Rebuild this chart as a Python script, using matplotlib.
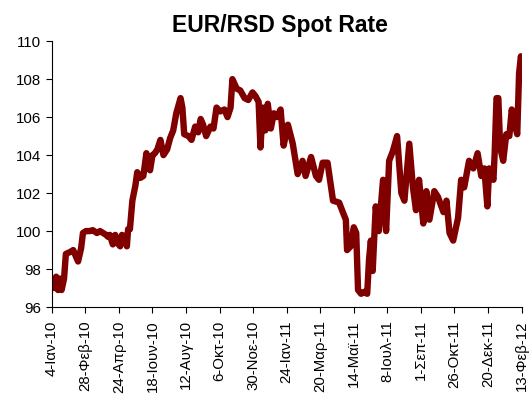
import numpy as np
import pandas as pd
import matplotlib
matplotlib.use("Agg")
import matplotlib.pyplot as plt

plt.rcParams.update({"font.family": ["Liberation Sans", "DejaVu Sans"]})

# EUR/RSD spot
dates = [
    "2010-01-04", "2010-01-07", "2010-01-11", "2010-01-14", "2010-01-17", "2010-01-20",
    "2010-01-24", "2010-01-27", "2010-02-03", "2010-02-08", "2010-02-12", "2010-02-16",
    "2010-02-21", "2010-02-24", "2010-03-01", "2010-03-07", "2010-03-12", "2010-03-19",
    "2010-03-24", "2010-03-29", "2010-04-03", "2010-04-06", "2010-04-09", "2010-04-14",
    "2010-04-18", "2010-04-21", "2010-04-26", "2010-04-29", "2010-05-04", "2010-05-07",
    "2010-05-09", "2010-05-12", "2010-05-16", "2010-05-21", "2010-05-24", "2010-05-29",
    "2010-06-03", "2010-06-08", "2010-06-11", "2010-06-14", "2010-06-18", "2010-06-22",
    "2010-06-26", "2010-07-01", "2010-07-06", "2010-07-12", "2010-07-17", "2010-07-22",
    "2010-07-27", "2010-08-03", "2010-08-06", "2010-08-09", "2010-08-16", "2010-08-21",
    "2010-08-27", "2010-09-01", "2010-09-05", "2010-09-09", "2010-09-14", "2010-09-21",
    "2010-09-26", "2010-10-01", "2010-10-07", "2010-10-14", "2010-10-19", "2010-10-24",
    "2010-10-27", "2010-11-03", "2010-11-09", "2010-11-16", "2010-11-22", "2010-11-29",
    "2010-12-04", "2010-12-09", "2010-12-12", "2010-12-16", "2010-12-20", "2010-12-24",
    "2010-12-29", "2011-01-03", "2011-01-08", "2011-01-14", "2011-01-19", "2011-01-26",
    "2011-02-03", "2011-02-11", "2011-02-19", "2011-02-24", "2011-03-05", "2011-03-13",
    "2011-03-18", "2011-03-24", "2011-04-01", "2011-04-10", "2011-04-20", "2011-04-26",
    "2011-05-01", "2011-05-03", "2011-05-09", "2011-05-14", "2011-05-18", "2011-05-21",
    "2011-05-26", "2011-05-31", "2011-06-05", "2011-06-08", "2011-06-11", "2011-06-14",
    "2011-06-19", "2011-06-24", "2011-07-01", "2011-07-06", "2011-07-11", "2011-07-17",
    "2011-07-24", "2011-07-31", "2011-08-05", "2011-08-13", "2011-08-19", "2011-08-24",
    "2011-08-29", "2011-09-05", "2011-09-10", "2011-09-15", "2011-09-23", "2011-09-29",
    "2011-10-08", "2011-10-13", "2011-10-18", "2011-10-24", "2011-11-01", "2011-11-06",
    "2011-11-11", "2011-11-19", "2011-11-26", "2011-12-03", "2011-12-09", "2011-12-14",
    "2011-12-19", "2011-12-22", "2011-12-29", "2011-12-31", "2012-01-03", "2012-01-06",
    "2012-01-09", "2012-01-14", "2012-01-19", "2012-01-24", "2012-01-28", "2012-02-01",
    "2012-02-06", "2012-02-09", "2012-02-12", "2012-02-14",
]
rate = [
    97.4, 97.0, 97.6, 96.9, 97.5, 96.9,
    97.5, 98.8, 98.9, 99.0, 98.7, 98.4,
    99.1, 99.9, 100.0, 100.0, 100.05, 99.9,
    100.0, 99.9, 99.8, 99.7, 99.8, 99.3,
    99.8, 99.4, 99.2, 99.8, 99.7, 99.2,
    100.1, 100.1, 101.6, 102.4, 103.1, 102.8,
    102.9, 104.1, 103.6, 103.2, 104.0, 104.1,
    104.3, 104.8, 104.0, 104.3, 104.9, 105.3,
    106.2, 107.0, 106.5, 105.1, 105.0, 104.8,
    105.5, 105.2, 105.9, 105.6, 105.0, 105.5,
    105.4, 106.5, 106.3, 106.4, 106.0, 106.5,
    108.0, 107.5, 107.4, 107.0, 106.9, 107.3,
    107.1, 106.8, 104.4, 106.5, 105.3, 106.7,
    105.4, 106.2, 106.0, 106.4, 104.5, 105.6,
    104.6, 103.0, 103.7, 102.9, 103.9, 102.9,
    102.7, 103.6, 103.6, 101.6, 101.5, 101.0,
    100.6, 99.0, 99.2, 100.2, 99.9, 96.9,
    96.7, 96.8, 96.7, 98.5, 99.5, 97.9,
    101.3, 100.0, 102.7, 100.0, 103.7, 104.2,
    105.0, 102.0, 101.6, 104.6, 102.3, 101.1,
    102.7, 100.4, 102.1, 100.6, 102.1, 101.8,
    101.0, 101.6, 99.9, 99.5, 100.7, 102.7,
    102.3, 103.7, 103.3, 104.1, 102.9, 103.3,
    101.3, 103.3, 102.7, 104.1, 107.0, 107.0,
    104.4, 103.7, 105.1, 105.0, 106.4, 105.7,
    105.1, 108.3, 109.2, 108.8,
]

tick_dates = ["2010-01-04", "2010-02-28", "2010-04-24", "2010-06-18", "2010-08-12",
              "2010-10-06", "2010-11-30", "2011-01-24", "2011-03-20", "2011-05-14",
              "2011-07-08", "2011-09-01", "2011-10-26", "2011-12-20", "2012-02-13"]
tick_labels = ["4-Ιαν-10", "28-Φεβ-10", "24-Απρ-10", "18-Ιουν-10", "12-Αυγ-10",
               "6-Οκτ-10", "30-Νοε-10", "24-Ιαν-11", "20-Μαρ-11", "14-Μαϊ-11",
               "8-Ιουλ-11", "1-Σεπ-11", "26-Οκτ-11", "20-Δεκ-11", "13-Φεβ-12"]

x = pd.to_datetime(dates)

fig = plt.figure(figsize=(5.29, 4.03), dpi=100)
ax = fig.add_axes([0.098, 0.238, 0.889, 0.660])

ax.plot(x, rate, color="#800000", lw=4.6, solid_joinstyle="round",
        solid_capstyle="round")

ax.set_ylim(96, 110)
ax.set_yticks(range(96, 111, 2))
ax.set_xlim(pd.Timestamp("2010-01-04"), pd.Timestamp("2012-02-14"))
ax.set_xticks(pd.to_datetime(tick_dates))
ax.set_xticklabels(tick_labels, rotation=90)

for s in ["top", "right"]:
    ax.spines[s].set_visible(False)
for s in ["left", "bottom"]:
    ax.spines[s].set_linewidth(0.8)
ax.tick_params(axis="both", direction="out", length=4.5, width=0.8,
               labelsize=10.8, colors="black")
ax.tick_params(axis="y", pad=3)
ax.tick_params(axis="x", pad=5)

fig.text(0.529, 0.92, "EUR/RSD Spot Rate", ha="center", va="baseline",
         fontsize=16.5, fontweight="bold")

fig.savefig("out.png", dpi=100)
